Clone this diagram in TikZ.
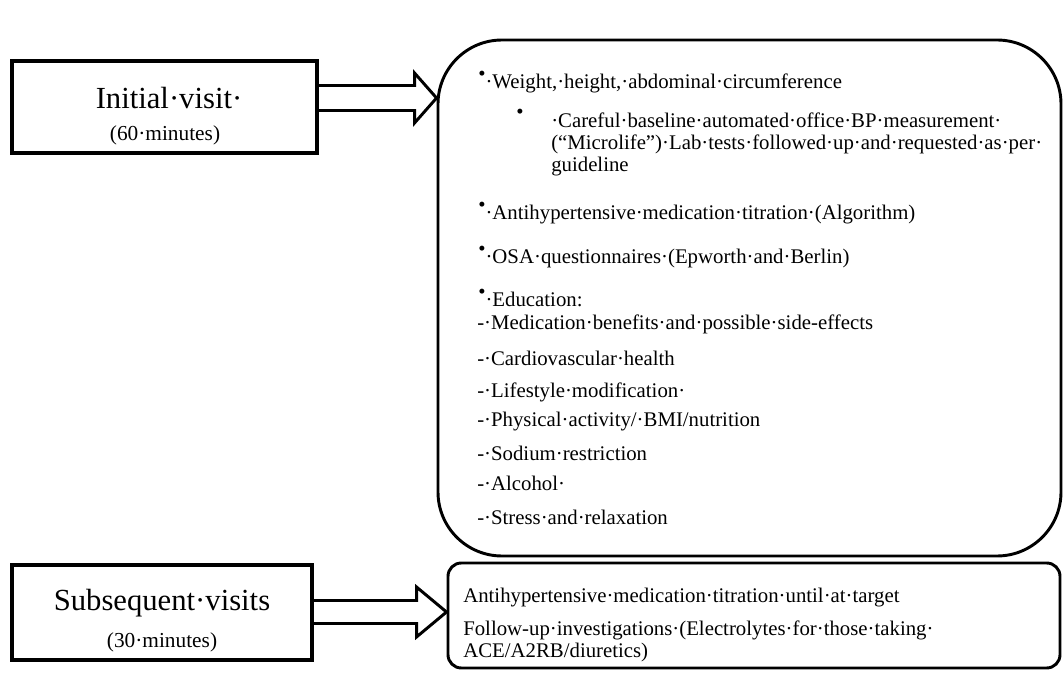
\documentclass[tikz,border=0pt]{standalone}
\usepackage{fontspec}
\setmainfont{Liberation Serif}
\usetikzlibrary{positioning,calc,fit}

\newcommand{\bul}{\raisebox{6pt}{\textbullet}}

\begin{document}
\begin{tikzpicture}[x=0.75pt,y=-0.75pt,
  visit/.style={draw,line width=3pt,inner sep=0pt},
  plan/.style={draw,line width=2.2pt,inner sep=0pt},
  title/.style={font=\fontsize{23}{27}\selectfont,inner sep=0pt},
  dur/.style={font=\fontsize{16}{19}\selectfont,inner sep=0pt},
  item/.style={font=\fontsize{15.6}{16.5}\selectfont,anchor=west,inner sep=0pt,align=left},
  hollow/.style={draw,line width=2.2pt,line join=miter}]
  \useasboundingbox (0,0) rectangle (1064,673);
  % visit boxes
  \node[visit,fit={(12,61) (317,153)}] (initial) {};
  \node[title] (initt) at (169,98) {Initial·visit·};
  \node[dur] (initd) at (165,135) {(60·minutes)};
  \node[visit,fit={(12,565) (312,660)}] (subseq) {};
  \node[title] (subt) at (162,603) {Subsequent·visits};
  \node[dur] (subd) at (162,642) {(30·minutes)};
  % what is done at each visit
  \node[plan,rounded corners=48pt,fit={(438,40) (1061,556)}] (plan) {};
  \node[plan,rounded corners=10pt,fit={(448,563) (1060,668)}] (follow) {};
  \node[item] (weight) at (478,82) {\bul·Weight,·height,·abdominal·circumference};
  \node[item,anchor=center] (subbul) at (520,114) {\textbullet};
  \node[item] (careful) at (551,144) {·Careful·baseline·automated·office·BP·measurement·\\
    (“Microlife”)·Lab·tests·followed·up·and·requested·as·per·\\guideline};
  \node[item] (titr) at (478,213) {\bul·Antihypertensive·medication·titration·(Algorithm)};
  \node[item] (osa) at (478,257) {\bul·OSA·questionnaires·(Epworth·and·Berlin)};
  \node[item] (edu) at (478,298) {\bul·Education:};
  \node[item] (ed1) at (477,324) {-·Medication·benefits·and·possible·side-effects};
  \node[item] (ed2) at (477,358) {-·Cardiovascular·health};
  \node[item] (ed3) at (477,392) {-·Lifestyle·modification·};
  \node[item] (ed4) at (477,422) {-·Physical·activity/·BMI/nutrition};
  \node[item] (ed5) at (477,453) {-·Sodium·restriction};
  \node[item] (ed6) at (477,483) {-·Alcohol·};
  \node[item] (ed7) at (477,517) {-·Stress·and·relaxation};
  \node[item] (until) at (463,598) {Antihypertensive·medication·titration·until·at·target};
  \node[item] (invest) at (463,641) {Follow-up·investigations·(Electrolytes·for·those·taking·\\ACE/A2RB/diuretics)};
  % open block arrows
  \coordinate (a1) at (0,98);
  \coordinate (a2) at (0,612);
  \draw[hollow] ($(initial.east |- a1)+(0,-12.5)$) -- ($(plan.west |- a1)+(-22,-12.5)$)
    -- ($(plan.west |- a1)+(-22,-25)$) -- (plan.west |- a1) -- ($(plan.west |- a1)+(-22,25)$)
    -- ($(plan.west |- a1)+(-22,12.5)$) -- ($(initial.east |- a1)+(0,12.5)$);
  \draw[hollow] ($(subseq.east |- a2)+(0,-11.5)$) -- ($(follow.west |- a2)+(-30,-11.5)$)
    -- ($(follow.west |- a2)+(-30,-25)$) -- (follow.west |- a2) -- ($(follow.west |- a2)+(-30,25)$)
    -- ($(follow.west |- a2)+(-30,11.5)$) -- ($(subseq.east |- a2)+(0,11.5)$);
\end{tikzpicture}
\end{document}
